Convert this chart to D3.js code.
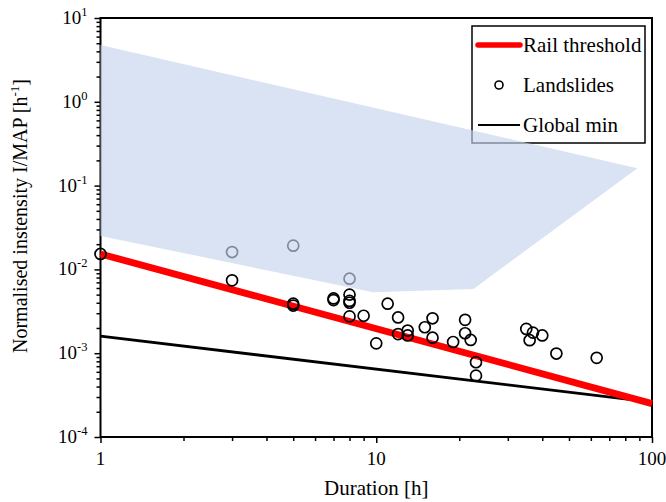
<!DOCTYPE html>
<html><head><meta charset="utf-8">
<script src="https://cdn.jsdelivr.net/npm/d3@7"></script>
<style>
html,body{margin:0;padding:0;background:#fff;}
text{font-family:"Liberation Serif","Times New Roman",serif;fill:#000;}
</style></head>
<body><svg id="c" width="666" height="502"></svg>
<script>
// ---- data ----
const durations = [1,3,5,8,3,5,5,7,7,8,8,8,8,9,10,11,12,12,13,13,15,16,16,19,21,21,22,23,23,35,36,37,40,45,63];
const intensities = [0.0153,0.0161,0.0192,0.00775,0.0074,0.0039,0.0037,0.0045,0.0043,0.0050,0.0042,0.0040,0.00275,0.0028,0.00131,0.0039,0.00267,0.00169,0.00186,0.00163,0.00204,0.00261,0.00153,0.00136,0.0025,0.00173,0.00144,0.00078,0.00054,0.00195,0.00143,0.00176,0.00163,0.00099,0.00088];
const railD = [1,100];
const railI = [0.0153,0.00025];
const globalD = [1,100];
const globalI = [0.0016,0.00026];
const envD = [1,88.5,22.5,9.76,1];
const envI = [4.76,0.161,0.00583,0.00533,0.0251];
const xTickValues = [1,10,100];
const xTickLabels = ["1","10","100"];
const yTickValues = [1e-4,1e-3,1e-2,1e-1,1,10];
const yTickExps = ["-4","-3","-2","-1","0","1"];
const legendLabels = ["Rail threshold","Landslides","Global min"];
const xTitle = "Duration [h]";
const yTitle = "Normalised instensity I/MAP [h";

// ---- layout ----
const L=100.5, R=652, T=18, B=437;
const svg = d3.select("#c");
const x = d3.scaleLog().domain([1,100]).range([L,R]);
const y = d3.scaleLog().domain([1e-4,10]).range([B,T]);

function minors(lo,hi){const a=[];for(let e=lo;e<hi;e++){for(let k=2;k<=9;k++)a.push(k*Math.pow(10,e));}return a;}

// axes
const gx = svg.append("g").attr("transform",`translate(0,${B})`);
gx.call(d3.axisBottom(x).tickValues(minors(0,2)).tickSize(4).tickSizeOuter(0).tickFormat(""));
gx.append("g").call(d3.axisBottom(x).tickValues(xTickValues).tickSize(6).tickSizeOuter(0).tickFormat(""));
const gy = svg.append("g").attr("transform",`translate(${L},0)`);
gy.call(d3.axisLeft(y).tickValues(minors(-4,1)).tickSize(4).tickSizeOuter(0).tickFormat(""));
gy.append("g").call(d3.axisLeft(y).tickValues(yTickValues).tickSize(6).tickSizeOuter(0).tickFormat(""));
svg.selectAll(".domain").attr("stroke","none");
svg.selectAll(".tick line").attr("stroke","#000").attr("stroke-width",1.5);

// frame
svg.append("rect").attr("x",L).attr("y",T).attr("width",R-L).attr("height",B-T)
  .attr("fill","none").attr("stroke","#000").attr("stroke-width",2);

// tick labels
xTickValues.forEach((v,i)=>{
  svg.append("text").attr("x",x(v)).attr("y",B+28).attr("text-anchor","middle")
    .attr("font-size",19).text(xTickLabels[i]);
});
yTickValues.forEach((v,i)=>{
  const t = svg.append("text").attr("x",L-13).attr("y",y(v)+6).attr("text-anchor","end").attr("font-size",19);
  t.append("tspan").text("10");
  t.append("tspan").attr("font-size",12.5).attr("dy",-8).text(yTickExps[i]);
});

// titles
svg.append("text").attr("x",(L+R)/2).attr("y",495).attr("text-anchor","middle").attr("font-size",21).text(xTitle);
const yt = svg.append("text").attr("transform",`translate(27,216) rotate(-90)`).attr("text-anchor","middle").attr("font-size",20);
yt.append("tspan").text(yTitle);
yt.append("tspan").attr("font-size",13).attr("dy",-8).text("-1");
yt.append("tspan").attr("dy",8).text("]");

// lines
const line = d3.line().x(d=>x(d[0])).y(d=>y(d[1]));
svg.append("path").datum(globalD.map((d,i)=>[d,globalI[i]])).attr("d",line)
  .attr("fill","none").attr("stroke","#000").attr("stroke-width",2.8);
svg.append("path").datum(railD.map((d,i)=>[d,railI[i]])).attr("d",line)
  .attr("fill","none").attr("stroke","#ff0000").attr("stroke-width",6.8);

// points
svg.append("g").selectAll("circle").data(durations.map((d,i)=>[d,intensities[i]])).join("circle")
  .attr("cx",d=>x(d[0])).attr("cy",d=>y(d[1])).attr("r",5.5)
  .attr("fill","none").attr("stroke","#000").attr("stroke-width",1.7);

// legend
const lg = svg.append("g");
lg.append("rect").attr("x",472).attr("y",26).attr("width",173).attr("height",117)
  .attr("fill","#fff").attr("stroke","#000").attr("stroke-width",1.5);
lg.append("line").attr("x1",478).attr("x2",520).attr("y1",45).attr("y2",45)
  .attr("stroke","#ff0000").attr("stroke-width",5.5).attr("stroke-linecap","round");
lg.append("circle").attr("cx",499).attr("cy",85).attr("r",4).attr("fill","none").attr("stroke","#000").attr("stroke-width",1.6);
lg.append("line").attr("x1",478).attr("x2",520).attr("y1",125).attr("y2",125)
  .attr("stroke","#000").attr("stroke-width",2.2);
legendLabels.forEach((s,i)=>{
  lg.append("text").attr("x",523).attr("y",45+40*i+7).attr("font-size",21).text(s);
});

// envelope polygon (semi-transparent, drawn on top)
svg.append("path").datum(envD.map((d,i)=>[d,envI[i]]))
  .attr("d",d=>line(d)+"Z")
  .attr("fill","rgb(198,212,237)").attr("fill-opacity",0.65).attr("stroke","none");
</script></body></html>
